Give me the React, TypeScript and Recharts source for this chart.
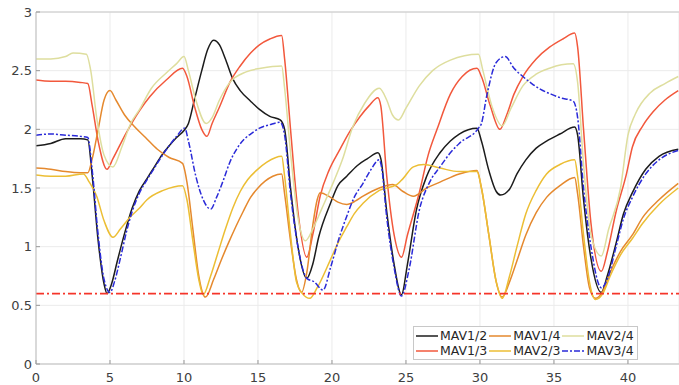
import React from 'react';
import { LineChart, Line, XAxis, YAxis, CartesianGrid, ReferenceLine, Legend } from 'recharts';

const xTicks = [0, 5, 10, 15, 20, 25, 30, 35, 40];
const yTicks = [0, 0.5, 1, 1.5, 2, 2.5, 3];
const thresholdValue = 0.6;

const seriesNames = ['MAV1/2', 'MAV1/3', 'MAV1/4', 'MAV2/3', 'MAV2/4', 'MAV3/4'];

const mav12: [number, number][] = [
  [0, 1.86], [1, 1.88], [2, 1.92], [3, 1.92], [3.5, 1.91], [3.8, 1.6], [4.2, 1.05], [4.6, 0.68], [4.8, 0.6],
  [5.1, 0.68], [5.5, 0.88], [6, 1.12], [6.5, 1.33], [7, 1.48], [7.5, 1.58], [8, 1.68], [8.5, 1.78], [9, 1.86],
  [9.5, 1.93], [10, 1.99], [10.3, 2.05], [10.7, 2.25], [11.2, 2.5], [11.6, 2.68], [12, 2.76], [12.4, 2.72],
  [12.8, 2.6], [13.3, 2.43], [13.8, 2.33], [14.5, 2.24], [15.1, 2.17], [15.8, 2.11], [16.5, 2.08], [16.8, 2.0],
  [17.2, 1.5], [17.7, 1.0], [18.3, 0.73], [18.7, 0.85], [19.1, 1.08], [19.9, 1.37], [20.4, 1.52], [21, 1.6],
  [21.7, 1.69], [22.4, 1.75], [23.1, 1.8], [23.3, 1.75], [23.7, 1.3], [24.2, 0.85], [24.7, 0.59], [25.1, 0.85],
  [25.7, 1.31], [26.4, 1.6], [27.3, 1.8], [28, 1.9], [28.6, 1.96], [29.8, 2.01], [30.1, 1.9], [30.6, 1.65],
  [31.1, 1.47], [31.4, 1.44], [32, 1.49], [32.5, 1.62], [33.1, 1.74], [33.8, 1.84], [34.5, 1.9], [35.4, 1.96],
  [36.4, 2.02], [36.6, 1.95], [37, 1.4], [37.5, 0.9], [38.2, 0.61], [38.6, 0.75], [39.2, 1.03], [39.7, 1.28],
  [40.3, 1.46], [41.2, 1.66], [42.1, 1.77], [43.4, 1.83],
];

const mav13: [number, number][] = [
  [0, 2.42], [1, 2.41], [2, 2.41], [3, 2.4], [3.5, 2.39], [3.8, 2.2], [4.2, 1.9], [4.8, 1.66], [5.2, 1.75],
  [6.1, 1.97], [7, 2.16], [7.7, 2.28], [8.8, 2.42], [9.9, 2.52], [10.2, 2.45], [10.7, 2.2], [11.2, 2.0],
  [11.55, 1.94], [11.9, 2.05], [12.4, 2.19], [13.1, 2.4], [13.8, 2.54], [14.5, 2.65], [15.1, 2.72], [15.8, 2.77],
  [16.6, 2.8], [16.8, 2.6], [17.2, 2.0], [17.7, 1.3], [18.3, 0.91], [18.7, 1.1], [19.2, 1.43], [19.8, 1.65],
  [20.5, 1.82], [21.2, 1.98], [21.9, 2.11], [22.5, 2.2], [23.1, 2.27], [23.3, 2.2], [23.7, 1.6], [24.2, 1.1],
  [24.7, 0.91], [25.1, 1.1], [25.9, 1.46], [26.5, 1.78], [27.1, 2.0], [28, 2.3], [28.8, 2.45], [29.8, 2.52],
  [30.1, 2.45], [30.7, 2.2], [31.35, 2.0], [31.8, 2.12], [32.3, 2.3], [32.9, 2.45], [33.8, 2.6], [34.7, 2.7],
  [35.6, 2.77], [36.4, 2.82], [36.6, 2.7], [37, 2.0], [37.5, 1.2], [38.2, 0.79], [38.6, 0.95], [39.2, 1.3],
  [39.9, 1.62], [40.3, 1.85], [41, 2.03], [41.7, 2.15], [42.5, 2.25], [43.4, 2.33],
];

const mav14: [number, number][] = [
  [0, 1.67], [1, 1.66], [2, 1.64], [3, 1.63], [3.5, 1.63], [3.8, 1.75], [4.2, 2.0], [4.6, 2.25], [5.0, 2.33],
  [5.4, 2.25], [6, 2.12], [6.6, 2.03], [7.4, 1.93], [8.2, 1.83], [9, 1.76], [9.9, 1.71], [10.2, 1.55], [10.6, 1.15],
  [11, 0.75], [11.45, 0.57], [12, 0.72], [12.5, 0.88], [13, 1.03], [13.5, 1.17], [14, 1.3], [14.5, 1.42], [15, 1.5],
  [15.5, 1.56], [16, 1.6], [16.6, 1.62], [16.8, 1.45], [17.2, 1.05], [17.6, 0.72], [17.95, 0.61], [18.3, 0.78],
  [18.7, 1.18], [19.0, 1.4], [19.2, 1.46], [19.9, 1.42], [20.4, 1.38], [21, 1.36], [21.6, 1.39], [22.1, 1.43],
  [23.2, 1.5], [24.1, 1.53], [24.8, 1.47], [25.5, 1.43], [26.4, 1.5], [27.3, 1.55], [28.6, 1.62], [29.8, 1.65],
  [30.1, 1.5], [30.6, 1.1], [31.1, 0.7], [31.5, 0.57], [32, 0.7], [32.5, 0.88], [33.1, 1.1], [33.8, 1.29],
  [34.5, 1.42], [35.4, 1.52], [36.4, 1.59], [36.6, 1.45], [37, 1.0], [37.4, 0.65], [37.8, 0.56], [38.3, 0.62],
  [38.8, 0.78], [39.5, 0.96], [40.3, 1.1], [41, 1.25], [42.1, 1.4], [43.4, 1.54],
];

const mav23: [number, number][] = [
  [0, 1.61], [1, 1.6], [2, 1.6], [3.2, 1.62], [3.6, 1.55], [4.1, 1.43], [4.6, 1.22], [5.2, 1.08], [5.7, 1.15],
  [6.35, 1.25], [7, 1.33], [7.5, 1.4], [8.6, 1.48], [9.9, 1.52], [10.2, 1.4], [10.6, 1.05], [11, 0.72], [11.3, 0.59],
  [11.8, 0.75], [12.3, 0.95], [12.8, 1.15], [13.3, 1.33], [13.8, 1.47], [14.3, 1.57], [14.9, 1.65], [15.6, 1.72],
  [16.6, 1.77], [16.8, 1.6], [17.2, 1.1], [17.6, 0.7], [18.0, 0.6], [18.5, 0.56], [19.0, 0.65], [19.9, 0.89],
  [20.4, 1.03], [21, 1.17], [21.5, 1.28], [22.1, 1.37], [23.2, 1.48], [24.4, 1.53], [24.8, 1.58], [25.5, 1.68],
  [26.2, 1.7], [27.3, 1.67], [28.6, 1.64], [29.8, 1.64], [30.1, 1.5], [30.6, 1.1], [31.1, 0.7], [31.5, 0.56],
  [32, 0.75], [32.5, 1.0], [33.1, 1.28], [33.8, 1.48], [34.5, 1.62], [35.4, 1.7], [36.4, 1.74], [36.6, 1.6],
  [37, 1.1], [37.4, 0.7], [37.8, 0.55], [38.3, 0.6], [38.8, 0.75], [39.5, 0.93], [40.3, 1.07], [41, 1.2],
  [42.1, 1.36], [43.4, 1.5],
];

const mav24: [number, number][] = [
  [0, 2.6], [1, 2.6], [2, 2.62], [2.5, 2.65], [3.4, 2.64], [3.7, 2.5], [4.1, 2.1], [4.6, 1.78], [5.2, 1.68],
  [5.8, 1.85], [6.4, 2.05], [7, 2.17], [7.8, 2.35], [8.8, 2.48], [9.5, 2.56], [10, 2.62], [10.3, 2.5], [10.8, 2.25],
  [11.5, 2.05], [11.9, 2.1], [12.4, 2.25], [13.1, 2.4], [14.2, 2.49], [15.2, 2.52], [16.6, 2.54], [16.8, 2.35],
  [17.2, 1.8], [17.7, 1.25], [18.2, 1.05], [18.7, 1.15], [19.3, 1.32], [20.1, 1.55], [20.7, 1.74], [21.4, 2.02],
  [22.2, 2.22], [23.2, 2.35], [23.7, 2.25], [24.1, 2.12], [24.5, 2.08], [25, 2.18], [25.9, 2.37], [26.8, 2.5],
  [28, 2.59], [29.9, 2.64], [30.2, 2.5], [30.8, 2.2], [31.5, 2.03], [32.1, 2.18], [32.9, 2.37], [33.8, 2.47],
  [34.7, 2.52], [35.5, 2.55], [36.3, 2.56], [36.6, 2.4], [37, 1.7], [37.5, 1.1], [38.2, 0.92], [38.7, 1.15],
  [39.5, 1.5], [40, 1.95], [40.5, 2.13], [41.5, 2.31], [42.5, 2.39], [43.4, 2.45],
];

const mav34: [number, number][] = [
  [0, 1.95], [1, 1.96], [2, 1.95], [3, 1.94], [3.5, 1.93], [3.8, 1.65], [4.2, 1.1], [4.6, 0.72], [5.0, 0.61],
  [5.3, 0.7], [5.7, 0.9], [6.1, 1.12], [6.5, 1.3], [7, 1.46], [7.5, 1.57], [8, 1.67], [8.5, 1.77], [9, 1.86],
  [9.5, 1.94], [10.05, 2.01], [10.3, 1.9], [10.8, 1.6], [11.3, 1.4], [11.8, 1.32], [12.2, 1.42], [12.7, 1.58],
  [13.1, 1.72], [13.6, 1.84], [14.1, 1.92], [14.5, 1.96], [15.1, 2.01], [15.8, 2.04], [16.5, 2.06], [16.8, 1.95],
  [17.2, 1.45], [17.7, 1.0], [18.3, 0.73], [18.8, 0.7], [19.4, 0.63], [19.9, 0.82], [20.5, 1.08], [21, 1.26],
  [21.5, 1.42], [22.1, 1.54], [22.6, 1.65], [23.2, 1.74], [23.35, 1.68], [23.7, 1.25], [24.2, 0.82],
  [24.7, 0.58], [25.2, 0.8], [25.9, 1.31], [26.6, 1.55], [27.3, 1.68], [28, 1.8], [28.6, 1.88], [29.9, 2.01],
  [30.1, 2.05], [30.45, 2.28], [31.1, 2.57], [31.7, 2.62], [32.3, 2.52], [32.9, 2.45], [33.5, 2.39], [34.1, 2.34],
  [34.8, 2.3], [35.4, 2.27], [36.3, 2.24], [36.6, 2.1], [37, 1.5], [37.5, 1.0], [38.2, 0.65], [38.6, 0.72],
  [39.2, 1.0], [39.7, 1.24], [40.3, 1.42], [41.2, 1.62], [42.1, 1.74], [43.4, 1.82],
];

const seriesData = [mav12, mav13, mav14, mav23, mav24, mav34];
const seriesColors = ['#1c1c1c', '#f2583c', '#e5892e', '#ecbe34', '#dede9e', '#2a2ad8'];
const seriesDash = [undefined, undefined, undefined, undefined, undefined, '6 2 2 2'];
const legendOrder = [0, 2, 4, 1, 3, 5];

const toPoints = (arr: [number, number][]) => arr.map(([x, y]) => ({ x, y }));

const FONT = '"DejaVu Sans", sans-serif';

const XTick = (props: any) => {
  const { x, y, payload } = props;
  return (
    <g>
      <line x1={x} x2={x} y1={y} y2={y - 4} stroke="#999" strokeWidth={1} />
      <text x={x} y={y} dy={18} textAnchor="middle" fontSize={13} fontFamily={FONT} fill="#404040">
        {payload.value}
      </text>
    </g>
  );
};

const YTick = (props: any) => {
  const { x, y, payload } = props;
  return (
    <g>
      <line x1={x} x2={x + 4} y1={y} y2={y} stroke="#999" strokeWidth={1} />
      <text x={x} y={y} dx={-4} dy={4.5} textAnchor="end" fontSize={13} fontFamily={FONT} fill="#404040">
        {payload.value}
      </text>
    </g>
  );
};

const LegendBox = () => (
  <div
    style={{
      border: '1px solid #c8c8c8',
      background: '#fff',
      display: 'grid',
      gridTemplateColumns: 'auto auto auto',
      columnGap: 2,
      padding: '1px 3px 1px 2px',
      fontFamily: FONT,
      fontSize: 12.5,
      color: '#262626',
      lineHeight: '15px',
      whiteSpace: 'nowrap',
    }}
  >
    {legendOrder.map((i) => (
      <div key={seriesNames[i]} style={{ display: 'flex', alignItems: 'center' }}>
        <svg width={22} height={10} style={{ marginRight: 2 }}>
          <line
            x1={0}
            x2={22}
            y1={5}
            y2={5}
            stroke={seriesColors[i]}
            strokeWidth={1.5}
            strokeDasharray={seriesDash[i]}
          />
        </svg>
        <span>{seriesNames[i]}</span>
      </div>
    ))}
  </div>
);

export default function App() {
  return (
    <div style={{ position: 'absolute', left: 0, top: 0, width: 679, height: 385, overflow: 'hidden', background: '#fff' }}>
      <LineChart width={679} height={385} margin={{ top: 12, right: 0, bottom: 0, left: 0 }}>
        <CartesianGrid stroke="#ebebeb" strokeWidth={1} />
        <XAxis
          dataKey="x"
          type="number"
          domain={[0, 43.45]}
          ticks={xTicks}
          allowDataOverflow
          height={21}
          tickSize={0}
          tickMargin={0}
          tickLine={false}
          axisLine={{ stroke: '#bdbdbd' }}
          tick={<XTick />}
        />
        <YAxis
          type="number"
          domain={[0, 3]}
          ticks={yTicks}
          allowDataOverflow
          width={36}
          tickSize={0}
          tickMargin={0}
          tickLine={false}
          axisLine={{ stroke: '#bdbdbd' }}
          tick={<YTick />}
        />
        <ReferenceLine y={3} stroke="#c8c8c8" strokeWidth={1} />
        {seriesData.map((d, i) => (
          <Line
            key={seriesNames[i]}
            data={toPoints(d)}
            dataKey="y"
            name={seriesNames[i]}
            type="monotone"
            dot={false}
            stroke={seriesColors[i]}
            strokeWidth={1.5}
            strokeDasharray={seriesDash[i]}
            isAnimationActive={false}
          />
        ))}
        <ReferenceLine
          y={thresholdValue}
          stroke="#f5352a"
          strokeOpacity={1}
          strokeWidth={1.6}
          strokeDasharray="8 3 2 3"
          ifOverflow="visible"
        />
        <Legend
          layout="vertical"
          align="center"
          verticalAlign="middle"
          content={<LegendBox />}
          wrapperStyle={{ position: 'absolute', left: 413, top: 326, width: 'auto', height: 'auto' }}
        />
      </LineChart>
    </div>
  );
}
